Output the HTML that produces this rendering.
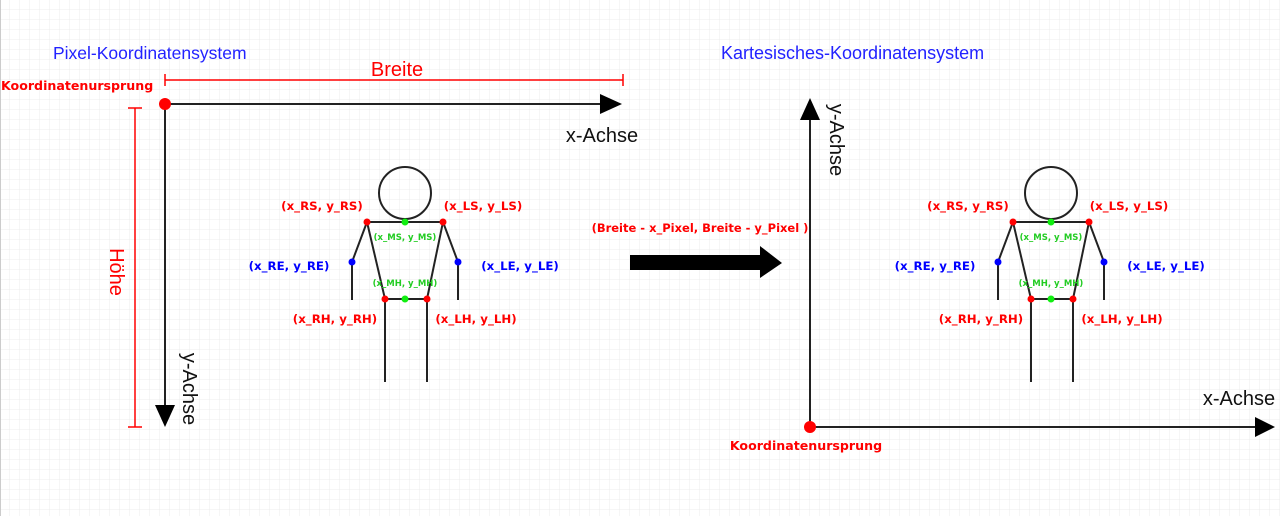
<!DOCTYPE html>
<html><head><meta charset="utf-8"><style>
html,body{margin:0;padding:0;width:1280px;height:516px;overflow:hidden;background:#fff;}
svg{display:block}
</style></head><body>
<svg width="1280" height="516" viewBox="0 0 1280 516" xmlns="http://www.w3.org/2000/svg" font-family="Liberation Sans, DejaVu Sans, sans-serif">
<defs>
<pattern id="g" width="10" height="10" patternUnits="userSpaceOnUse">
<path d="M10 0V10M0 10H10" stroke="#ececec" stroke-width="1" fill="none"/>
</pattern>
<g id="fig">
<circle cx="405" cy="193" r="26" fill="none" stroke="#222" stroke-width="2"/>
<g stroke="#222" stroke-width="2" fill="none">
<line x1="367" y1="222" x2="443" y2="222"/>
<polyline points="367,222 352,262 352,300"/>
<polyline points="443,222 458,262 458,300"/>
<line x1="367" y1="222" x2="385" y2="299"/>
<line x1="443" y1="222" x2="427" y2="299"/>
<line x1="385" y1="299" x2="427" y2="299"/>
<line x1="385" y1="299" x2="385" y2="382"/>
<line x1="427" y1="299" x2="427" y2="382"/>
</g>
<circle cx="367" cy="222" r="3.5" fill="#f00"/>
<circle cx="443" cy="222" r="3.5" fill="#f00"/>
<circle cx="405" cy="222" r="3.5" fill="#1e1"/>
<circle cx="352" cy="262" r="3.5" fill="#00f"/>
<circle cx="458" cy="262" r="3.5" fill="#00f"/>
<circle cx="385" cy="299" r="3.5" fill="#f00"/>
<circle cx="427" cy="299" r="3.5" fill="#f00"/>
<circle cx="405" cy="299" r="3.5" fill="#1e1"/>
<g font-weight="bold" font-size="11.8" text-anchor="middle" font-family="DejaVu Sans, sans-serif">
<text x="322" y="210" fill="#f00">(x_RS, y_RS)</text>
<text x="483" y="210" fill="#f00">(x_LS, y_LS)</text>
<text x="289" y="270" fill="#00f">(x_RE, y_RE)</text>
<text x="520" y="270" fill="#00f">(x_LE, y_LE)</text>
<text x="335" y="323" fill="#f00">(x_RH, y_RH)</text>
<text x="476" y="323" fill="#f00">(x_LH, y_LH)</text>
<text x="405" y="240" fill="#2c2" font-size="8.5">(x_MS, y_MS)</text>
<text x="405" y="286" fill="#2c2" font-size="8.5">(x_MH, y_MH)</text>
</g>
</g>
</defs>
<rect width="1280" height="516" fill="url(#g)"/>
<line x1="0.5" y1="0" x2="0.5" y2="516" stroke="#ccc"/>

<text x="53" y="59" fill="#22f" font-size="17.5">Pixel-Koordinatensystem</text>
<text x="721" y="59" fill="#22f" font-size="18">Kartesisches-Koordinatensystem</text>

<text x="1" y="90" fill="#f00" font-size="12.6" font-weight="bold" font-family="DejaVu Sans, sans-serif">Koordinatenursprung</text>
<g stroke="#f00" stroke-width="1.5">
<line x1="165" y1="80" x2="623" y2="80"/>
<line x1="165" y1="74" x2="165" y2="86"/>
<line x1="623" y1="74" x2="623" y2="86"/>
<line x1="135" y1="108" x2="135" y2="427"/>
<line x1="128" y1="108" x2="142" y2="108"/>
<line x1="128" y1="427" x2="142" y2="427"/>
</g>
<text x="397" y="76" fill="#f00" font-size="20" text-anchor="middle">Breite</text>
<text transform="translate(110,272) rotate(90)" fill="#f00" font-size="20" text-anchor="middle">Höhe</text>
<g stroke="#222" stroke-width="2">
<line x1="165" y1="104" x2="602" y2="104"/>
<line x1="165" y1="104" x2="165" y2="406"/>
</g>
<polygon points="600,94 622,104 600,114" fill="#000"/>
<polygon points="155,405 175,405 165,427" fill="#000"/>
<circle cx="165" cy="104" r="6" fill="#f00"/>
<text x="602" y="142" fill="#111" font-size="20" text-anchor="middle">x-Achse</text>
<text transform="translate(183,389) rotate(90)" fill="#111" font-size="20" text-anchor="middle">y-Achse</text>

<use href="#fig"/>

<text x="700" y="232" fill="#f00" font-size="11.5" font-weight="bold" text-anchor="middle" font-family="DejaVu Sans, sans-serif">(Breite - x_Pixel, Breite - y_Pixel )</text>
<polygon points="630,255 760,255 760,246 782,263 760,278 760,270 630,270" fill="#000"/>

<g stroke="#222" stroke-width="2">
<line x1="810" y1="427" x2="810" y2="118"/>
<line x1="810" y1="427" x2="1257" y2="427"/>
</g>
<polygon points="800,120 810,98 820,120" fill="#000"/>
<polygon points="1255,417 1275,427 1255,437" fill="#000"/>
<circle cx="810" cy="427" r="6" fill="#f00"/>
<text x="806" y="450" fill="#f00" font-size="12.6" font-weight="bold" text-anchor="middle" font-family="DejaVu Sans, sans-serif">Koordinatenursprung</text>
<text x="1239" y="405" fill="#111" font-size="20" text-anchor="middle">x-Achse</text>
<text transform="translate(830,140) rotate(90)" fill="#111" font-size="20" text-anchor="middle">y-Achse</text>

<use href="#fig" transform="translate(646,0)"/>
</svg>
</body></html>
